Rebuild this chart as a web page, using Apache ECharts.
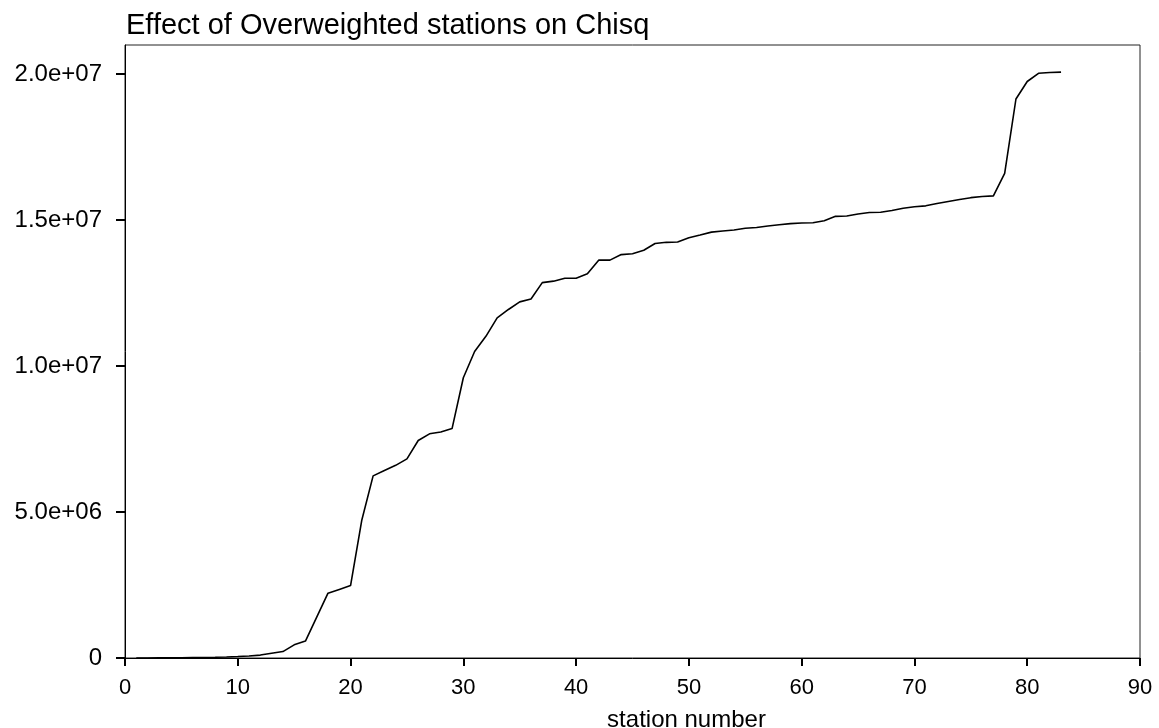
<!DOCTYPE html>
<html>
<head>
<meta charset="utf-8">
<script src="https://cdn.jsdelivr.net/npm/echarts@6/dist/echarts.min.js"></script>
<style>
  html, body { margin: 0; padding: 0; background: #fff; }
  #main { width: 1159px; height: 728px; }
</style>
</head>
<body>
<div id="main"></div>
<script>
// station numbers along the x axis
const stations = [
  1, 2, 3, 4, 5, 6, 7, 8, 9, 10,
  11, 12, 13, 14, 15, 16, 17, 18, 19, 20,
  21, 22, 23, 24, 25, 26, 27, 28, 29, 30,
  31, 32, 33, 34, 35, 36, 37, 38, 39, 40,
  41, 42, 43, 44, 45, 46, 47, 48, 49, 50,
  51, 52, 53, 54, 55, 56, 57, 58, 59, 60,
  61, 62, 63, 64, 65, 66, 67, 68, 69, 70,
  71, 72, 73, 74, 75, 76, 77, 78, 79, 80,
  81, 82, 83
]

// chisq, in millions
const chisqMillions = [
  0.001, 0.002, 0.004, 0.006, 0.009, 0.013, 0.018, 0.025, 0.035, 0.05,
  0.07, 0.1, 0.16, 0.22, 0.45, 0.58, 1.4, 2.22, 2.35, 2.48,
  4.73, 6.24, 6.42, 6.6, 6.82, 7.45, 7.68, 7.74, 7.86, 9.6,
  10.5, 11.02, 11.65, 11.94, 12.2, 12.3, 12.86, 12.91, 13.01, 13.01,
  13.16, 13.63, 13.63, 13.82, 13.85, 13.97, 14.2, 14.24, 14.25, 14.4,
  14.49, 14.59, 14.63, 14.66, 14.72, 14.75, 14.8, 14.84, 14.88, 14.9,
  14.91, 14.98, 15.13, 15.14, 15.21, 15.26, 15.27, 15.33, 15.41, 15.46,
  15.49, 15.57, 15.64, 15.71, 15.77, 15.81, 15.83, 16.6, 19.15, 19.75,
  20.03, 20.06, 20.07
]

const yTicks = [0, 5e6, 1e7, 1.5e7, 2e7]

const FONT = '"Liberation Sans", Arial, Helvetica, sans-serif'

function fmtSci (v) {
  if (v === 0) return '0'
  // 2e7 -> "2.0e+07"
  return v.toExponential(1).replace(/e([+-])(\d)$/, 'e$10$2')
}

const chart = echarts.init(document.getElementById('main'), null, { renderer: 'canvas' })

chart.setOption({
  backgroundColor: '#fff',
  animation: false,
  title: {
    text: 'Effect of Overweighted stations on Chisq',
    left: 121,
    top: 6,
    textStyle: { fontFamily: FONT, fontSize: 29, fontWeight: 'normal', color: '#000' }
  },
  grid: {
    left: 125,
    right: 19,
    top: 45,
    bottom: 70,
    outerBoundsMode: 'none',
    show: true,
    borderColor: '#222',
    borderWidth: 1
  },
  xAxis: {
    type: 'value',
    min: 0,
    max: 90,
    interval: 10,
    name: 'station number',
    nameLocation: 'middle',
    nameGap: 50,
    nameTextStyle: { fontFamily: FONT, fontSize: 24, color: '#000', padding: [0, 0, 0, 108] },
    axisLine: { lineStyle: { color: '#000', width: 1 } },
    axisTick: { show: true, inside: false, length: 8, lineStyle: { color: '#000', width: 2 } },
    axisLabel: { fontFamily: FONT, fontSize: 22, color: '#000', margin: 19 },
    splitLine: { show: false }
  },
  yAxis: {
    type: 'value',
    min: 0,
    max: 2.1e7,
    axisLine: { show: true, lineStyle: { color: '#000', width: 1 } },
    axisTick: {
      show: true, inside: false, length: 9,
      customValues: yTicks,
      lineStyle: { color: '#000', width: 2 }
    },
    axisLabel: {
      fontFamily: FONT, fontSize: 24, color: '#000', margin: 23,
      customValues: yTicks,
      formatter: fmtSci
    },
    splitLine: { show: false }
  },
  series: [{
    type: 'line',
    data: stations.map((s, i) => [s, chisqMillions[i] * 1e6]),
    showSymbol: false,
    lineStyle: { color: '#000', width: 1.6 }
  }]
})
</script>
</body>
</html>
